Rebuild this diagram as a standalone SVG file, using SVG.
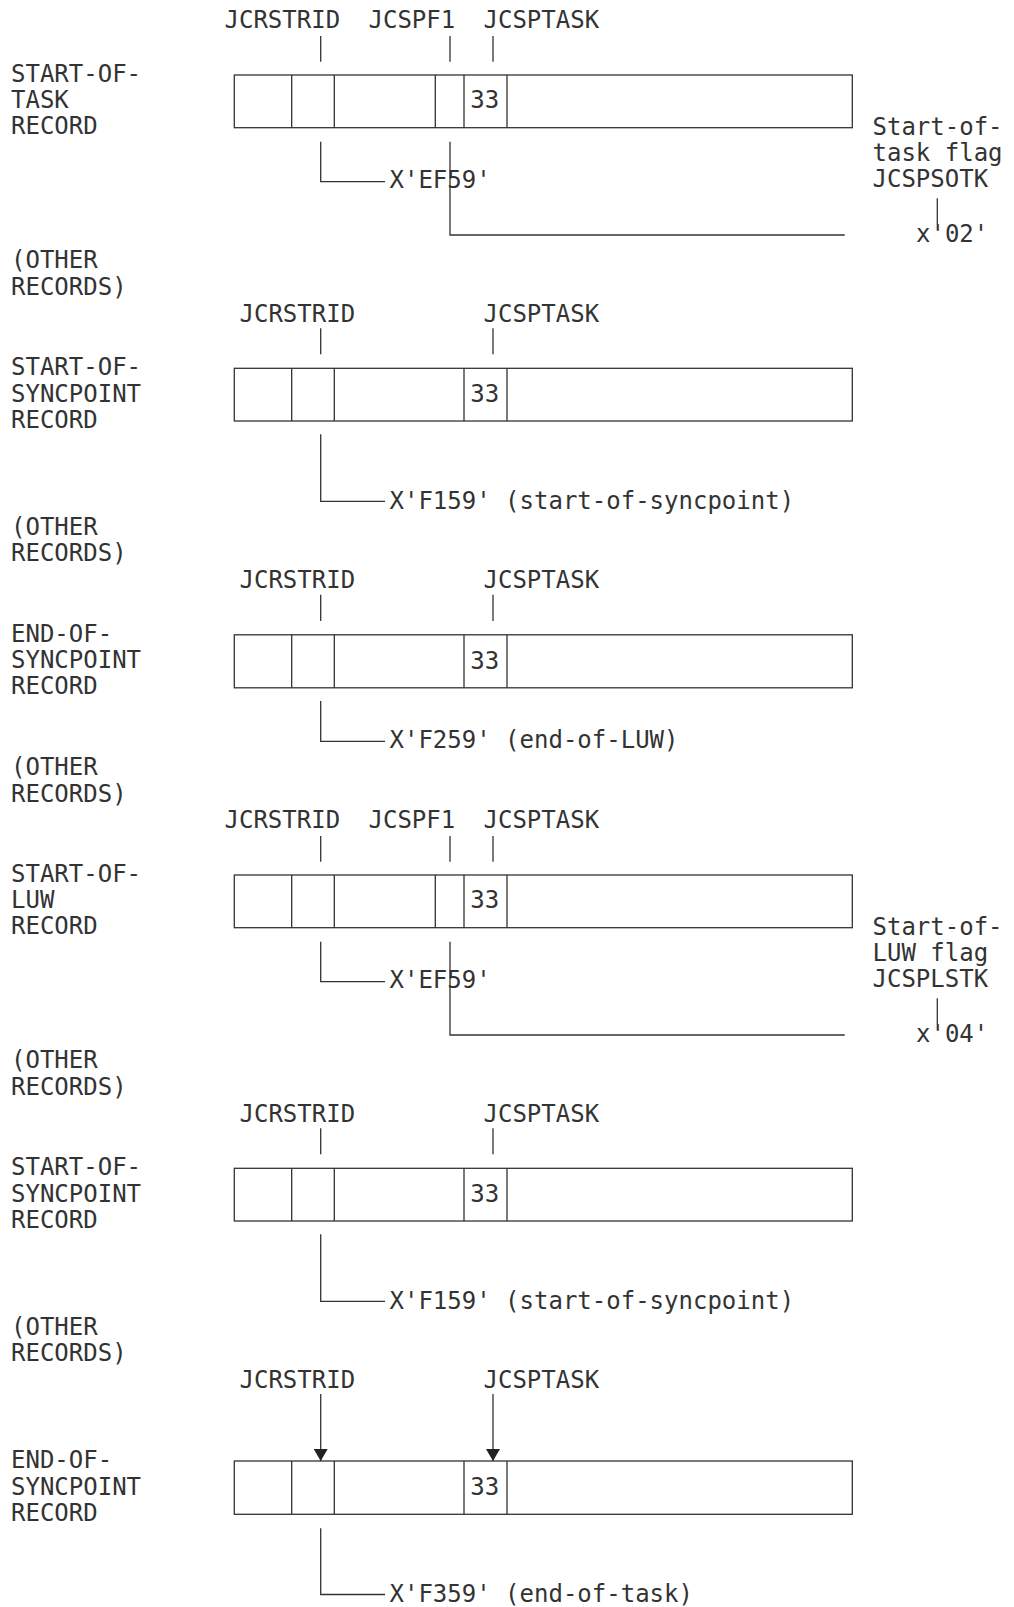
<svg xmlns="http://www.w3.org/2000/svg" width="1014" height="1607" viewBox="0 0 1014 1607">
<style>
text{font-family:"DejaVu Sans Mono","Liberation Mono",monospace;font-size:24px;fill:#333}
.ln{fill:none;stroke:#333;stroke-width:1.3}
.box{fill:#fff;stroke:#333;stroke-width:1.3}
</style>
<defs>
<marker id="ah" markerUnits="userSpaceOnUse" viewBox="0 0 12 14" refX="12" refY="7" markerWidth="12" markerHeight="14" orient="auto">
<path d="M0,0 L12,7 L0,14 z" fill="#222"/>
</marker>
</defs>
<rect width="1014" height="1607" fill="#fff"/>

<!-- Section 1: START-OF-TASK -->
<g id="rec1">
<text x="11" y="82.3">START-OF-</text>
<text x="11" y="108.3">TASK</text>
<text x="11" y="134.3">RECORD</text>
<text x="224.5" y="28.3">JCRSTRID</text>
<text x="368.5" y="28.3">JCSPF1</text>
<text x="483.5" y="28.3">JCSPTASK</text>
<rect class="box" x="234.3" y="75" width="618" height="52.7"/>
<path class="ln" d="M291.7 75V127.7M334.3 75V127.7M435.3 75V127.7M464 75V127.7M507 75V127.7"/>
<text x="470.3" y="108.3">33</text>
<text x="389.5" y="188.3">X'EF59'</text>
<text x="872.5" y="135">Start-of-</text>
<text x="872.5" y="160.5">task flag</text>
<text x="872.5" y="186.5">JCSPSOTK</text>
<text x="916" y="242.3">x'02'</text>
<text x="11" y="268.3">(OTHER</text>
<text x="11" y="295">RECORDS)</text>
</g>

<!-- Section 2: START-OF-SYNCPOINT -->
<g id="rec2">
<text x="11" y="375">START-OF-</text>
<text x="11" y="401.7">SYNCPOINT</text>
<text x="11" y="427.7">RECORD</text>
<text x="239.5" y="322.3">JCRSTRID</text>
<text x="483.5" y="322.3">JCSPTASK</text>
<rect class="box" x="234.3" y="368.3" width="618" height="52.7"/>
<path class="ln" d="M291.7 368.3V421M334.3 368.3V421M464 368.3V421M507 368.3V421"/>
<text x="470.3" y="402.3">33</text>
<text x="389.5" y="508.5">X'F159' (start-of-syncpoint)</text>
<text x="11" y="535">(OTHER</text>
<text x="11" y="561">RECORDS)</text>
</g>

<!-- Section 3: END-OF-SYNCPOINT -->
<g id="rec3">
<text x="11" y="641.7">END-OF-</text>
<text x="11" y="668.3">SYNCPOINT</text>
<text x="11" y="694.3">RECORD</text>
<text x="239.5" y="588.3">JCRSTRID</text>
<text x="483.5" y="588.3">JCSPTASK</text>
<rect class="box" x="234.3" y="634.8" width="618" height="53"/>
<path class="ln" d="M291.7 634.8V687.8M334.3 634.8V687.8M464 634.8V687.8M507 634.8V687.8"/>
<text x="470.3" y="669">33</text>
<text x="389.5" y="748">X'F259' (end-of-LUW)</text>
<text x="11" y="775">(OTHER</text>
<text x="11" y="801.7">RECORDS)</text>
</g>

<!-- Section 4: START-OF-LUW -->
<g id="rec4">
<text x="11" y="882.3">START-OF-</text>
<text x="11" y="908.3">LUW</text>
<text x="11" y="934.3">RECORD</text>
<text x="224.5" y="828.3">JCRSTRID</text>
<text x="368.5" y="828.3">JCSPF1</text>
<text x="483.5" y="828.3">JCSPTASK</text>
<rect class="box" x="234.3" y="875" width="618" height="52.7"/>
<path class="ln" d="M291.7 875V927.7M334.3 875V927.7M435.3 875V927.7M464 875V927.7M507 875V927.7"/>
<text x="470.3" y="908.3">33</text>
<text x="389.5" y="988.3">X'EF59'</text>
<text x="872.5" y="935">Start-of-</text>
<text x="872.5" y="960.5">LUW flag</text>
<text x="872.5" y="986.5">JCSPLSTK</text>
<text x="916" y="1042.3">x'04'</text>
<text x="11" y="1068.3">(OTHER</text>
<text x="11" y="1095">RECORDS)</text>
</g>

<!-- Section 5: START-OF-SYNCPOINT -->
<g id="rec5">
<text x="11" y="1175">START-OF-</text>
<text x="11" y="1201.7">SYNCPOINT</text>
<text x="11" y="1227.7">RECORD</text>
<text x="239.5" y="1122">JCRSTRID</text>
<text x="483.5" y="1122">JCSPTASK</text>
<rect class="box" x="234.3" y="1168.3" width="618" height="52.7"/>
<path class="ln" d="M291.7 1168.3V1221M334.3 1168.3V1221M464 1168.3V1221M507 1168.3V1221"/>
<text x="470.3" y="1202.3">33</text>
<text x="389.5" y="1308.5">X'F159' (start-of-syncpoint)</text>
<text x="11" y="1335">(OTHER</text>
<text x="11" y="1361">RECORDS)</text>
</g>

<!-- Section 6: END-OF-SYNCPOINT -->
<g id="rec6">
<text x="11" y="1467.7">END-OF-</text>
<text x="11" y="1495">SYNCPOINT</text>
<text x="11" y="1521">RECORD</text>
<text x="239.5" y="1388.3">JCRSTRID</text>
<text x="483.5" y="1388.3">JCSPTASK</text>
<rect class="box" x="234.3" y="1461" width="618" height="53.3"/>
<path class="ln" d="M291.7 1461V1514.3M334.3 1461V1514.3M464 1461V1514.3M507 1461V1514.3"/>
<text x="470.3" y="1495">33</text>
<text x="389.5" y="1601.7">X'F359' (end-of-task)</text>
</g>

<g id="connectors" class="ln">
<!-- section 1 -->
<path d="M320.7 36V61.7M450 36V61.7M493 36V61.7"/>
<path d="M320.7 141.7V181.7H385"/>
<path d="M450 141.7V235H844.7"/>
<path d="M937.3 198.3V224"/>
<!-- section 2 -->
<path d="M320.7 328.3V354.3M493 328.3V354.3"/>
<path d="M320.7 434.3V501.3H385"/>
<!-- section 3 -->
<path d="M320.7 594.7V621M493 594.7V621"/>
<path d="M320.7 701V741.3H385"/>
<!-- section 4 -->
<path d="M320.7 836V861.7M450 836V861.7M493 836V861.7"/>
<path d="M320.7 941.7V981.7H385"/>
<path d="M450 941.7V1035H844.7"/>
<path d="M937.3 998.3V1024"/>
<!-- section 5 -->
<path d="M320.7 1128.3V1154.3M493 1128.3V1154.3"/>
<path d="M320.7 1234.3V1301.3H385"/>
<!-- section 6 -->
<path d="M320.7 1394V1461" marker-end="url(#ah)"/>
<path d="M493 1394V1461" marker-end="url(#ah)"/>
<path d="M320.7 1528.3V1594.5H385"/>
</g>
</svg>
